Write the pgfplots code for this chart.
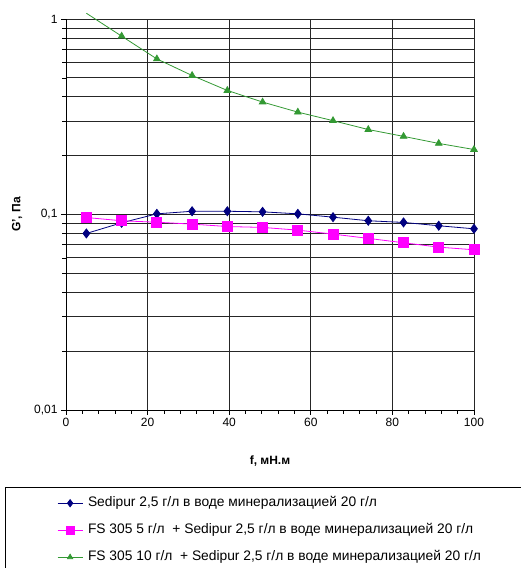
\documentclass[border=0pt]{standalone}
\usepackage{fontspec}
\setmainfont{Liberation Sans}
\usepackage{pgfplots}
\pgfplotsset{compat=1.18}
\definecolor{sedblue}{RGB}{0,0,128}
\definecolor{fsmag}{RGB}{255,0,255}
\definecolor{fsgreen}{RGB}{51,153,51}

\begin{document}
\begin{tikzpicture}[x=1pt,y=1pt]
  \begin{axis}[
      at={(66pt,158pt)}, anchor=south west,
      width=408pt, height=391pt, scale only axis,
      xmin=0, xmax=100, ymode=log, ymin=0.01, ymax=1,
      xtick={0,20,...,100}, minor x tick num=4,
      ytick={0.01,0.1,1}, yticklabels={{0,01},{0,1},{1}},
      minor ytick={0.02,0.03,0.04,0.05,0.06,0.07,0.08,0.09,
                   0.2,0.3,0.4,0.5,0.6,0.7,0.8,0.9},
      axis lines=left, axis line style={-, black, line width=0.8pt},
      tick align=outside, major tick length=5pt, minor tick length=4pt,
      tick style={black, line width=0.7pt},
      xmajorgrids, ymajorgrids, yminorgrids,
      major grid style={black!85, line width=0.8pt},
      minor grid style={black!85, line width=0.8pt},
      tick label style={font=\fontsize{12}{14}\selectfont},
      /pgf/number format/assume math mode=true,
      xlabel={\textbf{f, мН.м}}, ylabel={\textbf{G', Па}},
      label style={font=\fontsize{12}{14}\selectfont},
      xlabel style={at={(axis description cs:0.5,-0.1304)}, anchor=center},
      ylabel style={at={(axis description cs:-0.120,0.5)}, anchor=center},
      clip=false,
      legend style={at={(-0.022,-0.2225)}, anchor=north west, draw=none,
        fill=none, inner sep=0pt, row sep=15pt, column sep=5pt,
        font=\fontsize{13.8}{15}\selectfont,
        nodes={inner sep=0pt, text height=9pt, text depth=3pt}},
      legend cell align=left,
      legend image code/.code={\draw[#1, mark indices={2},
        every mark/.append style={scale=0.8}] plot coordinates
        {(0pt,0pt) (12.5pt,0pt) (25pt,0pt)};},
    ]
    \addplot[sedblue, line width=0.8pt, mark=diamond*, mark size=4.5pt,
             mark options={solid, fill=sedblue, draw=sedblue}]
      coordinates {(5,0.080) (13.64,0.0907) (22.27,0.1008) (30.91,0.1039)
        (39.55,0.1039) (48.18,0.1032) (56.82,0.1008) (65.45,0.0969)
        (74.09,0.0929) (82.73,0.0911) (91.36,0.0876) (100,0.0845)};
    \addlegendentry{Sedipur 2,5 г/л в воде минерализацией 20 г/л}
    \addplot[fsmag, line width=0.8pt, mark=square*, mark size=5pt,
             mark options={solid, fill=fsmag, draw=fsmag}]
      coordinates {(5,0.0965) (13.64,0.0929) (22.27,0.0913) (30.91,0.0893)
        (39.55,0.0868) (48.18,0.0859) (56.82,0.0832) (65.45,0.0794)
        (74.09,0.0755) (82.73,0.0717) (91.36,0.0681) (100,0.0660)};
    \addlegendentry{FS 305 5 г/л \ + Sedipur 2,5 г/л в воде минерализацией 20 г/л}
    \addplot[fsgreen, line width=0.8pt, mark=triangle*, mark size=3.8pt,
             mark indices={2,...,12},
             mark options={solid, fill=fsgreen, draw=fsgreen}]
      coordinates {(5,1.07) (13.64,0.817) (22.27,0.625) (30.91,0.514)
        (39.55,0.431) (48.18,0.376) (56.82,0.334) (65.45,0.302)
        (74.09,0.272) (82.73,0.251) (91.36,0.231) (100,0.215)};
    \addlegendentry{FS 305 10 г/л \ + Sedipur 2,5 г/л в воде минерализацией 20 г/л}
  \end{axis}
  \draw[black, line width=0.8pt] (5,-20) rectangle (540,81);
  \pgfresetboundingbox
  \path[use as bounding box] (0,0) rectangle (520,568);
\end{tikzpicture}
\end{document}
